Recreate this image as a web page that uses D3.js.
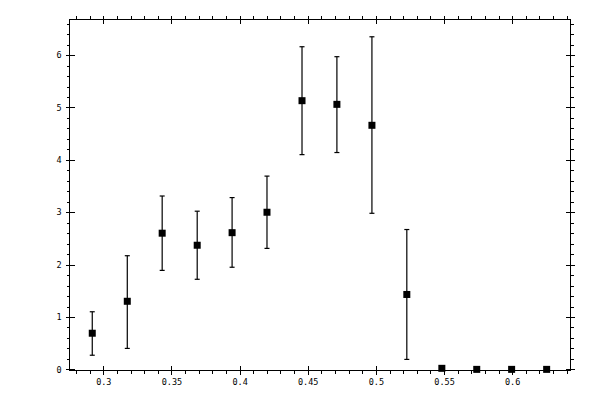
<!DOCTYPE html>
<html>
<head>
<meta charset="utf-8">
<script src="https://cdn.jsdelivr.net/npm/d3@7"></script>
<style>
  body { margin: 0; background: #fff; }
  svg { display: block; }
  .axis path, .axis line { stroke: #000; stroke-width: 1; shape-rendering: crispEdges; }
  .axis text { font-family: "DejaVu Sans Mono", monospace; font-size: 8.5px; fill: #000; }
</style>
</head>
<body>
<svg id="svg" width="600" height="400"></svg>
<script>
// values
var xs   = [0.2919, 0.3176, 0.3432, 0.3689, 0.3945, 0.4201, 0.4458, 0.4714, 0.4971, 0.5227, 0.5484, 0.5740, 0.5996, 0.6253];
var ys   = [0.69, 1.30, 2.60, 2.37, 2.61, 3.00, 5.13, 5.06, 4.66, 1.43, 0.02, 0.00, 0.00, 0.00];
var errLo = [0.27, 0.40, 1.89, 1.72, 1.95, 2.31, 4.10, 4.14, 2.98, 0.19, null, null, null, null];
var errHi = [1.10, 2.17, 3.31, 3.02, 3.28, 3.69, 6.16, 5.97, 6.35, 2.67, null, null, null, null];

var xMajor = [0.3, 0.35, 0.4, 0.45, 0.5, 0.55, 0.6];
var yMajor = [0, 1, 2, 3, 4, 5, 6];

var L = 69.5, R = 570.5, T = 19.5, B = 370;

var x = d3.scaleLinear().domain([0.2752, 0.6428]).range([L, R]);
var y = d3.scaleLinear().domain([-0.012, 6.68]).range([B, T]);

var xMinor = d3.range(28, 65).map(function(i){ return i / 100; }).filter(function(v){ return v >= 0.2752 && v <= 0.6428; });
var yMinor = d3.range(0, 34).map(function(i){ return i / 5; }).filter(function(v){ return v <= 6.68; });

var svg = d3.select("#svg");

// frame
svg.append("rect")
  .attr("x", L).attr("y", T).attr("width", R - L).attr("height", B - T)
  .attr("fill", "none").attr("stroke", "#000").attr("shape-rendering", "crispEdges");

function fmt(d){ return String(+d.toFixed(2)); }

// bottom
svg.append("g").attr("class", "axis").attr("transform", "translate(0," + B + ")")
  .call(d3.axisBottom(x).tickValues(xMinor).tickSize(4).tickFormat("")).select(".domain").remove();
svg.append("g").attr("class", "axis").attr("transform", "translate(0," + B + ")")
  .call(d3.axisBottom(x).tickValues(xMajor).tickSize(5).tickPadding(4).tickFormat(fmt)).select(".domain").remove();
svg.append("g").attr("class", "axis").attr("transform", "translate(0," + B + ")")
  .call(d3.axisTop(x).tickValues(xMajor).tickSize(4).tickFormat("")).select(".domain").remove();
// top
svg.append("g").attr("class", "axis").attr("transform", "translate(0," + T + ")")
  .call(d3.axisTop(x).tickValues(xMinor).tickSize(4).tickFormat("")).select(".domain").remove();
svg.append("g").attr("class", "axis").attr("transform", "translate(0," + T + ")")
  .call(d3.axisTop(x).tickValues(xMajor).tickSize(4).tickFormat("")).select(".domain").remove();
svg.append("g").attr("class", "axis").attr("transform", "translate(0," + T + ")")
  .call(d3.axisBottom(x).tickValues(xMajor).tickSize(4).tickFormat("")).select(".domain").remove();
// left
svg.append("g").attr("class", "axis").attr("transform", "translate(" + L + ",0)")
  .call(d3.axisLeft(y).tickValues(yMinor).tickSize(3).tickFormat("")).select(".domain").remove();
svg.append("g").attr("class", "axis").attr("transform", "translate(" + L + ",0)")
  .call(d3.axisLeft(y).tickValues(yMajor).tickSize(4).tickPadding(4).tickFormat(fmt)).select(".domain").remove();
svg.append("g").attr("class", "axis").attr("transform", "translate(" + L + ",0)")
  .call(d3.axisRight(y).tickValues(yMajor).tickSize(5).tickFormat("")).select(".domain").remove();
// right
svg.append("g").attr("class", "axis").attr("transform", "translate(" + R + ",0)")
  .call(d3.axisRight(y).tickValues(yMinor).tickSize(3).tickFormat("")).select(".domain").remove();
svg.append("g").attr("class", "axis").attr("transform", "translate(" + R + ",0)")
  .call(d3.axisRight(y).tickValues(yMajor).tickSize(4).tickFormat("")).select(".domain").remove();
svg.append("g").attr("class", "axis").attr("transform", "translate(" + R + ",0)")
  .call(d3.axisLeft(y).tickValues(yMajor).tickSize(5).tickFormat("")).select(".domain").remove();

var idx = d3.range(xs.length);
var withErr = idx.filter(function(i){ return errLo[i] !== null; });

var bars = svg.append("g").attr("stroke", "#000").attr("stroke-width", 1.2);
bars.selectAll("line.v").data(withErr).enter().append("line")
  .attr("x1", function(i){ return x(xs[i]); }).attr("x2", function(i){ return x(xs[i]); })
  .attr("y1", function(i){ return y(errLo[i]); }).attr("y2", function(i){ return y(errHi[i]); });
bars.selectAll("line.lo").data(withErr).enter().append("line")
  .attr("x1", function(i){ return x(xs[i]) - 2.5; }).attr("x2", function(i){ return x(xs[i]) + 2.5; })
  .attr("y1", function(i){ return y(errLo[i]); }).attr("y2", function(i){ return y(errLo[i]); });
bars.selectAll("line.hi").data(withErr).enter().append("line")
  .attr("x1", function(i){ return x(xs[i]) - 2.5; }).attr("x2", function(i){ return x(xs[i]) + 2.5; })
  .attr("y1", function(i){ return y(errHi[i]); }).attr("y2", function(i){ return y(errHi[i]); });

svg.append("g").selectAll("rect").data(idx).enter().append("rect")
  .attr("x", function(i){ return x(xs[i]) - 3.5; })
  .attr("y", function(i){ return y(ys[i]) - 3.5; })
  .attr("width", 7).attr("height", 7)
  .attr("fill", "#000");
</script>
</body>
</html>
